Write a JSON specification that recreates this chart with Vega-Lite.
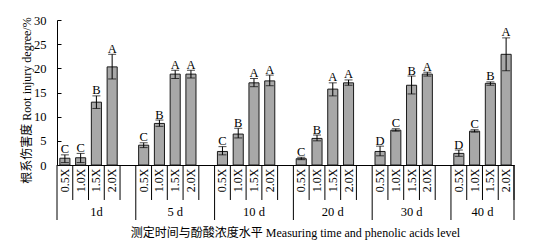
{
  "$schema": "https://vega.github.io/schema/vega-lite/v6.json",
  "width": 457,
  "height": 145,
  "autosize": {"type": "none"},
  "padding": {"left": 57, "top": 20, "right": 31, "bottom": 80},
  "config": {
    "view": {"stroke": null},
    "font": "Liberation Serif, Noto Sans CJK SC",
    "axis": {"labelColor": "#000", "titleColor": "#000", "domainColor": "#000", "tickColor": "#000", "grid": false, "titleFontWeight": "normal"}
  },
  "resolve": {"axis": {"x": "independent", "y": "independent"}},
  "datasets": {
    "bars": [
      {"slot": "1d|0.5X", "mean": 1.4, "lo": 0.5, "hi": 2.1, "letter": "C"},
      {"slot": "1d|1.0X", "mean": 1.5, "lo": 0.5, "hi": 2.4, "letter": "C"},
      {"slot": "1d|1.5X", "mean": 13.0, "lo": 11.7, "hi": 14.3, "letter": "B"},
      {"slot": "1d|2.0X", "mean": 20.3, "lo": 17.8, "hi": 22.9, "letter": "A"},
      {"slot": "5d|0.5X", "mean": 4.1, "lo": 3.6, "hi": 4.6, "letter": "C"},
      {"slot": "5d|1.0X", "mean": 8.6, "lo": 8.0, "hi": 9.3, "letter": "B"},
      {"slot": "5d|1.5X", "mean": 18.8, "lo": 17.9, "hi": 19.6, "letter": "A"},
      {"slot": "5d|2.0X", "mean": 18.8, "lo": 18.0, "hi": 19.6, "letter": "A"},
      {"slot": "10d|0.5X", "mean": 2.8, "lo": 2.1, "hi": 3.8, "letter": "C"},
      {"slot": "10d|1.0X", "mean": 6.4, "lo": 5.6, "hi": 7.6, "letter": "B"},
      {"slot": "10d|1.5X", "mean": 17.0, "lo": 16.2, "hi": 17.9, "letter": "A"},
      {"slot": "10d|2.0X", "mean": 17.4, "lo": 16.4, "hi": 18.6, "letter": "A"},
      {"slot": "20d|0.5X", "mean": 1.3, "lo": 1.1, "hi": 1.6, "letter": "C"},
      {"slot": "20d|1.0X", "mean": 5.5, "lo": 5.0, "hi": 6.2, "letter": "B"},
      {"slot": "20d|1.5X", "mean": 15.7, "lo": 14.3, "hi": 17.0, "letter": "A"},
      {"slot": "20d|2.0X", "mean": 17.0, "lo": 16.5, "hi": 17.6, "letter": "A"},
      {"slot": "30d|0.5X", "mean": 2.8, "lo": 1.9, "hi": 3.9, "letter": "D"},
      {"slot": "30d|1.0X", "mean": 7.2, "lo": 7.0, "hi": 7.5, "letter": "C"},
      {"slot": "30d|1.5X", "mean": 16.5, "lo": 14.7, "hi": 18.4, "letter": "B"},
      {"slot": "30d|2.0X", "mean": 18.8, "lo": 18.4, "hi": 19.2, "letter": "A"},
      {"slot": "40d|0.5X", "mean": 2.4, "lo": 1.8, "hi": 3.1, "letter": "D"},
      {"slot": "40d|1.0X", "mean": 7.0, "lo": 6.8, "hi": 7.3, "letter": "C"},
      {"slot": "40d|1.5X", "mean": 16.9, "lo": 16.5, "hi": 17.2, "letter": "B"},
      {"slot": "40d|2.0X", "mean": 22.9, "lo": 19.5, "hi": 26.3, "letter": "A"}
    ],
    "groups": [
      {"label": "1d", "first": "1d|0.5X", "second": "1d|1.0X", "third": "1d|1.5X", "last": "1d|2.0X", "final": false},
      {"label": "5 d", "first": "5d|0.5X", "second": "5d|1.0X", "third": "5d|1.5X", "last": "5d|2.0X", "final": false},
      {"label": "10 d", "first": "10d|0.5X", "second": "10d|1.0X", "third": "10d|1.5X", "last": "10d|2.0X", "final": false},
      {"label": "20 d", "first": "20d|0.5X", "second": "20d|1.0X", "third": "20d|1.5X", "last": "20d|2.0X", "final": false},
      {"label": "30 d", "first": "30d|0.5X", "second": "30d|1.0X", "third": "30d|1.5X", "last": "30d|2.0X", "final": false},
      {"label": "40 d", "first": "40d|0.5X", "second": "40d|1.0X", "third": "40d|1.5X", "last": "40d|2.0X", "final": true}
    ]
  },
  "layer": [
    {
      "data": {"name": "bars"},
      "mark": {"type": "bar", "fill": "#a8a8a8", "stroke": "#1a1a1a", "strokeWidth": 1},
      "encoding": {
        "x": {
          "field": "slot", "type": "nominal",
          "scale": {"domain": ["1d|0.5X","1d|1.0X","1d|1.5X","1d|2.0X","g1","5d|0.5X","5d|1.0X","5d|1.5X","5d|2.0X","g2","10d|0.5X","10d|1.0X","10d|1.5X","10d|2.0X","g3","20d|0.5X","20d|1.0X","20d|1.5X","20d|2.0X","g4","30d|0.5X","30d|1.0X","30d|1.5X","30d|2.0X","g5","40d|0.5X","40d|1.0X","40d|1.5X","40d|2.0X"], "paddingInner": 0.36, "paddingOuter": 0.18},
          "axis": {
            "title": "测定时间与酚酸浓度水平 Measuring time and phenolic acids level",
            "titleFontSize": 12,
            "titleX": 238,
            "titleY": 62,
            "titleAnchor": null,
            "titleAlign": "center",
            "titleBaseline": "top",
            "labelAngle": -90,
            "labelFontSize": 12,
            "labelPadding": 3,
            "labelOverlap": false,
            "labelBound": false,
            "labelExpr": "indexof(datum.value, '|') >= 0 ? split(datum.value, '|')[1] : ''",
            "ticks": false
          }
        },
        "y": {
          "field": "mean", "type": "quantitative",
          "scale": {"domain": [0, 30], "nice": false, "zero": false},
          "axis": {
            "title": "根系伤害度 Root injury degree/%",
            "titleFontSize": 12,
            "titleX": -31,
            "titleY": 80,
            "titleAnchor": null,
            "titleAlign": "center",
            "titleBaseline": "middle",
            "values": [0, 5, 10, 15, 20, 25, 30],
            "labelFontSize": 12.5,
            "tickSize": -4,
            "labelPadding": 15
          }
        }
      }
    },
    {
      "data": {"name": "bars"},
      "mark": {"type": "errorbar", "ticks": true, "size": 8, "thickness": 1, "color": "#000"},
      "encoding": {
        "x": {"field": "slot", "type": "nominal", "axis": null,
          "scale": {"domain": ["1d|0.5X","1d|1.0X","1d|1.5X","1d|2.0X","g1","5d|0.5X","5d|1.0X","5d|1.5X","5d|2.0X","g2","10d|0.5X","10d|1.0X","10d|1.5X","10d|2.0X","g3","20d|0.5X","20d|1.0X","20d|1.5X","20d|2.0X","g4","30d|0.5X","30d|1.0X","30d|1.5X","30d|2.0X","g5","40d|0.5X","40d|1.0X","40d|1.5X","40d|2.0X"], "paddingInner": 0.36, "paddingOuter": 0.18}},
        "y": {"field": "lo", "type": "quantitative", "scale": {"domain": [0, 30], "nice": false, "zero": false}, "axis": null},
        "y2": {"field": "hi"}
      }
    },
    {
      "data": {"name": "bars"},
      "mark": {"type": "text", "baseline": "alphabetic", "align": "center", "dy": -1.5, "fontSize": 12.5, "color": "#000"},
      "encoding": {
        "x": {"field": "slot", "type": "nominal", "axis": null,
          "scale": {"domain": ["1d|0.5X","1d|1.0X","1d|1.5X","1d|2.0X","g1","5d|0.5X","5d|1.0X","5d|1.5X","5d|2.0X","g2","10d|0.5X","10d|1.0X","10d|1.5X","10d|2.0X","g3","20d|0.5X","20d|1.0X","20d|1.5X","20d|2.0X","g4","30d|0.5X","30d|1.0X","30d|1.5X","30d|2.0X","g5","40d|0.5X","40d|1.0X","40d|1.5X","40d|2.0X"], "paddingInner": 0.36, "paddingOuter": 0.18}},
        "y": {"field": "hi", "type": "quantitative", "scale": {"domain": [0, 30], "nice": false, "zero": false}, "axis": null},
        "text": {"field": "letter"}
      }
    },
    {
      "data": {"name": "bars"},
      "mark": {"type": "rule", "color": "#000", "strokeWidth": 1},
      "encoding": {
        "x": {"field": "slot", "type": "nominal", "axis": null, "bandPosition": 1.28125,
          "scale": {"domain": ["1d|0.5X","1d|1.0X","1d|1.5X","1d|2.0X","g1","5d|0.5X","5d|1.0X","5d|1.5X","5d|2.0X","g2","10d|0.5X","10d|1.0X","10d|1.5X","10d|2.0X","g3","20d|0.5X","20d|1.0X","20d|1.5X","20d|2.0X","g4","30d|0.5X","30d|1.0X","30d|1.5X","30d|2.0X","g5","40d|0.5X","40d|1.0X","40d|1.5X","40d|2.0X"], "paddingInner": 0.36, "paddingOuter": 0.18}},
        "y": {"datum": 0, "type": "quantitative", "scale": {"domain": [0, 30], "nice": false, "zero": false}, "axis": null},
        "y2": {"datum": -7.24}
      }
    },
    {
      "data": {"name": "groups"},
      "mark": {"type": "rule", "color": "#000", "strokeWidth": 1},
      "encoding": {
        "x": {"field": "first", "type": "nominal", "axis": null, "bandPosition": -0.28125,
          "scale": {"domain": ["1d|0.5X","1d|1.0X","1d|1.5X","1d|2.0X","g1","5d|0.5X","5d|1.0X","5d|1.5X","5d|2.0X","g2","10d|0.5X","10d|1.0X","10d|1.5X","10d|2.0X","g3","20d|0.5X","20d|1.0X","20d|1.5X","20d|2.0X","g4","30d|0.5X","30d|1.0X","30d|1.5X","30d|2.0X","g5","40d|0.5X","40d|1.0X","40d|1.5X","40d|2.0X"], "paddingInner": 0.36, "paddingOuter": 0.18}},
        "y": {"datum": 0, "type": "quantitative", "scale": {"domain": [0, 30], "nice": false, "zero": false}, "axis": null},
        "y2": {"datum": -11.38}
      }
    },
    {
      "data": {"name": "groups"},
      "transform": [{"filter": "datum.final"}],
      "mark": {"type": "rule", "color": "#000", "strokeWidth": 1},
      "encoding": {
        "x": {"field": "last", "type": "nominal", "axis": null, "bandPosition": 1.28125,
          "scale": {"domain": ["1d|0.5X","1d|1.0X","1d|1.5X","1d|2.0X","g1","5d|0.5X","5d|1.0X","5d|1.5X","5d|2.0X","g2","10d|0.5X","10d|1.0X","10d|1.5X","10d|2.0X","g3","20d|0.5X","20d|1.0X","20d|1.5X","20d|2.0X","g4","30d|0.5X","30d|1.0X","30d|1.5X","30d|2.0X","g5","40d|0.5X","40d|1.0X","40d|1.5X","40d|2.0X"], "paddingInner": 0.36, "paddingOuter": 0.18}},
        "y": {"datum": 0, "type": "quantitative", "scale": {"domain": [0, 30], "nice": false, "zero": false}, "axis": null},
        "y2": {"datum": -11.38}
      }
    },
    {
      "data": {"name": "groups"},
      "transform": [{"filter": "!datum.final"}],
      "mark": {"type": "text", "baseline": "alphabetic", "align": "center", "fontSize": 12.5, "color": "#000"},
      "encoding": {
        "x": {"field": "third", "type": "nominal", "axis": null, "bandPosition": 0.5,
          "scale": {"domain": ["1d|0.5X","1d|1.0X","1d|1.5X","1d|2.0X","g1","5d|0.5X","5d|1.0X","5d|1.5X","5d|2.0X","g2","10d|0.5X","10d|1.0X","10d|1.5X","10d|2.0X","g3","20d|0.5X","20d|1.0X","20d|1.5X","20d|2.0X","g4","30d|0.5X","30d|1.0X","30d|1.5X","30d|2.0X","g5","40d|0.5X","40d|1.0X","40d|1.5X","40d|2.0X"], "paddingInner": 0.36, "paddingOuter": 0.18}},
        "y": {"datum": -10.62, "type": "quantitative", "scale": {"domain": [0, 30], "nice": false, "zero": false}, "axis": null},
        "text": {"field": "label"}
      }
    },
    {
      "data": {"name": "groups"},
      "transform": [{"filter": "datum.final"}],
      "mark": {"type": "text", "baseline": "alphabetic", "align": "center", "fontSize": 12.5, "color": "#000"},
      "encoding": {
        "x": {"field": "second", "type": "nominal", "axis": null, "bandPosition": 1.28125,
          "scale": {"domain": ["1d|0.5X","1d|1.0X","1d|1.5X","1d|2.0X","g1","5d|0.5X","5d|1.0X","5d|1.5X","5d|2.0X","g2","10d|0.5X","10d|1.0X","10d|1.5X","10d|2.0X","g3","20d|0.5X","20d|1.0X","20d|1.5X","20d|2.0X","g4","30d|0.5X","30d|1.0X","30d|1.5X","30d|2.0X","g5","40d|0.5X","40d|1.0X","40d|1.5X","40d|2.0X"], "paddingInner": 0.36, "paddingOuter": 0.18}},
        "y": {"datum": -10.62, "type": "quantitative", "scale": {"domain": [0, 30], "nice": false, "zero": false}, "axis": null},
        "text": {"field": "label"}
      }
    }
  ]
}
